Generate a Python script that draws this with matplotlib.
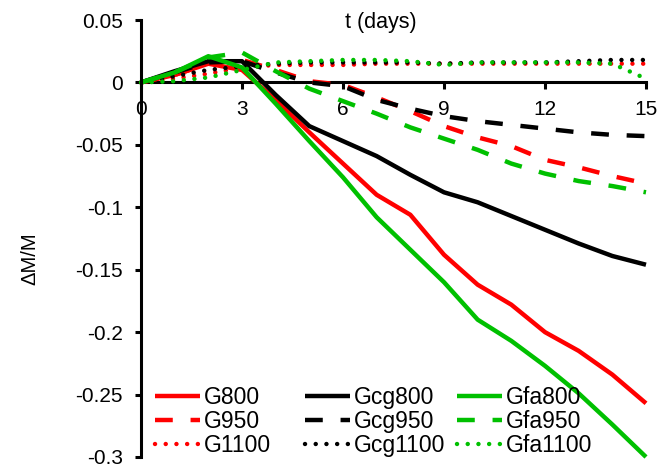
import matplotlib
matplotlib.use("Agg")
import matplotlib.pyplot as plt
from matplotlib.ticker import FixedLocator, FixedFormatter

plt.rcParams['font.family'] = ['Liberation Sans', 'DejaVu Sans']

# Relative mass change versus time
days = [0, 1, 2, 3, 4, 5, 6, 7, 8, 9, 10, 11, 12, 13, 14, 15]

g800 = [0, 0.006, 0.015, 0.010, -0.014, -0.040, -0.065, -0.090, -0.106, -0.138,
        -0.162, -0.178, -0.200, -0.215, -0.234, -0.257]
gcg800 = [0, 0.009, 0.017, 0.017, -0.010, -0.035, -0.047, -0.059, -0.074, -0.088,
          -0.096, -0.107, -0.118, -0.129, -0.139, -0.146]
gfa800 = [0, 0.008, 0.021, 0.012, -0.017, -0.047, -0.076, -0.108, -0.134, -0.160,
          -0.190, -0.207, -0.227, -0.249, -0.274, -0.300]

g950 = [0, 0.006, 0.015, 0.018, 0.010, 0.001, -0.002, -0.012, -0.023, -0.035,
        -0.044, -0.051, -0.062, -0.068, -0.075, -0.081]
gcg950 = [0, 0.008, 0.016, 0.017, 0.008, 0.000, -0.003, -0.014, -0.021, -0.027,
          -0.031, -0.034, -0.037, -0.040, -0.042, -0.043]
gfa950 = [0, 0.008, 0.020, 0.024, 0.009, -0.005, -0.015, -0.025, -0.036, -0.045,
          -0.054, -0.065, -0.073, -0.079, -0.083, -0.088]

g1100 = [0, 0.003, 0.007, 0.012, 0.014, 0.014, 0.014, 0.015, 0.015, 0.015,
         0.015, 0.015, 0.015, 0.015, 0.015, 0.015]
gcg1100 = [0, 0.005, 0.010, 0.013, 0.015, 0.016, 0.016, 0.016, 0.016, 0.015,
           0.016, 0.016, 0.016, 0.017, 0.018, 0.018]
gfa1100 = [0, 0.001, 0.004, 0.010, 0.016, 0.017, 0.018, 0.018, 0.017, 0.014,
           0.016, 0.016, 0.016, 0.016, 0.015, 0.003]

x_ticks = [0, 3, 6, 9, 12, 15]
x_tick_labels = ["0", "3", "6", "9", "12", "15"]
y_ticks = [0.05, 0, -0.05, -0.1, -0.15, -0.2, -0.25, -0.3]
y_tick_labels = ["0.05", "0", "-0.05", "-0.1", "-0.15", "-0.2", "-0.25", "-0.3"]

RED = "#FF0000"
BLACK = "#000000"
GREEN = "#00C000"

W, H = 672, 466
fig = plt.figure(figsize=(W / 100, H / 100), dpi=100)
ax = fig.add_axes([141 / W, 1 - 457 / H, 505 / W, 437 / H])

lw = 3.2
solid = dict(linestyle="-", linewidth=lw, solid_capstyle="butt")
dashed = dict(linestyle=(0, (4.0, 4.0)), linewidth=lw, dash_capstyle="butt")
dotted = dict(linestyle=(0, (0.01, 2.4)), linewidth=lw, dash_capstyle="round")

groups = [
    [("G800", g800, RED, solid), ("G950", g950, RED, dashed),
     ("G1100", g1100, RED, dotted)],
    [("Gcg800", gcg800, BLACK, solid), ("Gcg950", gcg950, BLACK, dashed),
     ("Gcg1100", gcg1100, BLACK, dotted)],
    [("Gfa800", gfa800, GREEN, solid), ("Gfa950", gfa950, GREEN, dashed),
     ("Gfa1100", gfa1100, GREEN, dotted)],
]

group_handles = []
for group in groups:
    hs = []
    for name, vals, col, style in group:
        line, = ax.plot(days, vals, color=col, label=name, clip_on=False, **style)
        hs.append(line)
    group_handles.append(hs)

ax.set_xlim(0, 15)
ax.set_ylim(-0.3, 0.05)

for s in ("top", "right"):
    ax.spines[s].set_visible(False)
ax.spines["bottom"].set_position(("data", 0))
ax.spines["left"].set_linewidth(2.2)
ax.spines["bottom"].set_linewidth(2.2)
ax.spines["bottom"].set_zorder(1)

ax.xaxis.set_major_locator(FixedLocator(x_ticks))
ax.xaxis.set_major_formatter(FixedFormatter(x_tick_labels))
ax.yaxis.set_major_locator(FixedLocator(y_ticks))
ax.yaxis.set_major_formatter(FixedFormatter(y_tick_labels))

ax.tick_params(axis="x", direction="out", length=5, width=2.2, pad=8,
               labelsize=15)
ax.tick_params(axis="y", direction="out", length=4, width=2.2, pad=9,
               labelsize=15)

ax.text(0.475, 0.995, "t (days)", transform=ax.transAxes, ha="center",
        va="center", fontsize=15.5)
fig.text(0.045, 0.444, "ΔM/M", rotation=90, ha="center", va="center",
         fontsize=14.5)

# One legend column per material family, evenly spaced
col_left = [155, 305, 457]
for i, hs in enumerate(group_handles):
    leg = ax.legend(handles=hs, loc="center left",
                    bbox_to_anchor=(col_left[i] / W, 1 - 421.5 / H),
                    bbox_transform=fig.transFigure, frameon=False,
                    fontsize=16.5, handlelength=1.97, handletextpad=0.15,
                    labelspacing=0.05, borderpad=0, borderaxespad=0)
    if i < len(group_handles) - 1:
        ax.add_artist(leg)

fig.savefig("out.png", dpi=100)
